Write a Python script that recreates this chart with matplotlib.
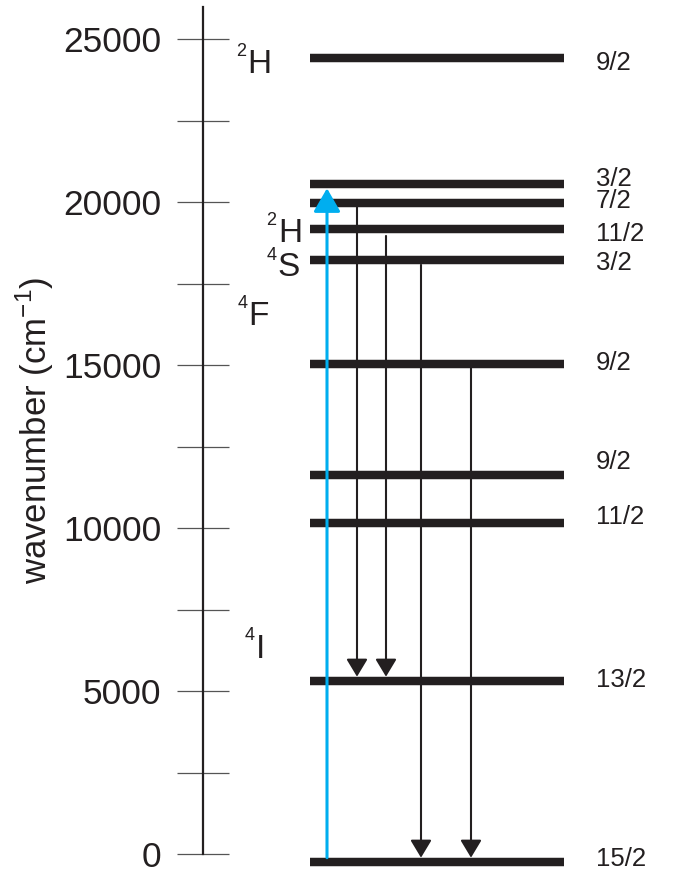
import matplotlib
matplotlib.use("Agg")
import matplotlib.pyplot as plt
from matplotlib.patches import ArrowStyle

plt.rcParams['font.family'] = ['Liberation Sans', 'DejaVu Sans']
plt.rcParams['mathtext.fontset'] = 'custom'
plt.rcParams['mathtext.rm'] = 'Liberation Sans'

# ---------------- data ----------------
level_energy = [-245, 5307, 10153, 11626, 15031, 18221, 19172, 19969, 20552, 24417]
level_J = ['15/2', '13/2', '11/2', '9/2', '9/2', '3/2', '11/2', '7/2', '3/2', '9/2']

terms_main = ['H', 'H', 'S', 'F', 'I']
terms_mult = ['2', '2', '4', '4', '4']

# excitation (blue) : from -> to
pump_from, pump_to = -245, 20552
# emissions (black): from -> to
emis_from = [19969, 19172, 18221, 15031]
emis_to = [5307, 5307, -245, -245]

yticks_major = [0, 5000, 10000, 15000, 20000, 25000]
yticks_minor = [2500, 7500, 12500, 17500, 22500]

# ---------------- layout ----------------
W, H = 687, 877
fig = plt.figure(figsize=(W / 100, H / 100), dpi=100)
ax = fig.add_axes([0, 0, 1, 1])
ax.set_xlim(0, W)
px_per_unit = 0.0326
y0_px = 854
ax.set_ylim((y0_px - H) / px_per_unit, y0_px / px_per_unit)

dark = '#231f20'
blue = '#00AEEF'

for s in ['top', 'right', 'bottom']:
    ax.spines[s].set_visible(False)
ax.spines['left'].set_position(('data', 203))
ax.spines['left'].set_bounds(0, (y0_px - 7) / px_per_unit)
ax.spines['left'].set_linewidth(1.6)
ax.spines['left'].set_color(dark)
ax.set_xticks([])
ax.set_yticks(yticks_major)
ax.set_yticks(yticks_minor, minor=True)
ax.set_yticklabels([str(v) for v in yticks_major])
ax.tick_params(axis='y', which='both', direction='inout', length=38, width=0.9,
               color='#555555')
ax.tick_params(axis='y', which='major', labelsize=25.5, labelcolor=dark, pad=11)
ax.patch.set_visible(False)

# levels
bar_x0, bar_x1 = 310, 564
ax.hlines(level_energy, bar_x0, bar_x1, colors=dark, linewidth=6.1, capstyle='butt', zorder=3)

def fpos(x, y):
    return (x / W, 1 - y / H)

# J labels
label_baseline_px = [866, 687, 524, 469, 370, 270, 241, 208, 186, 70]
for lab, yb in zip(level_J, label_baseline_px):
    fig.text(*fpos(596, yb), lab, fontsize=18.5, color=dark, ha='left', va='baseline')

# term labels
main_pos = [(247, 73), (278, 242), (277, 276), (248, 325), (256, 658)]
sup_pos = [(236, 56), (266, 225), (267, 260), (238, 308), (245, 640)]
for m, s, (mx, my), (sx, sy) in zip(terms_main, terms_mult, main_pos, sup_pos):
    fig.text(*fpos(mx, my), m, fontsize=24, color=dark, ha='left', va='baseline')
    fig.text(*fpos(sx, sy), s, fontsize=13, color=dark, ha='left', va='baseline')

# y label
fig.text(*fpos(35, 430), 'wavenumber (cm$^{\\mathregular{-1}}$)', fontsize=25, color=dark,
         rotation=90, ha='center', va='center')

# pump arrow
ax.annotate('', xy=(327, pump_to), xytext=(327, pump_from),
            arrowprops=dict(arrowstyle=ArrowStyle('-|>', head_length=14.4, head_width=8.3),
                            mutation_scale=1, color=blue, lw=2.2,
                            shrinkA=3.1, shrinkB=3.1), zorder=4)

# emission arrows
emis_x = [357, 386, 421, 471]
shrink_start = [3.1, 5.0, 3.5, 3.1]
for x, e0, e1, sa in zip(emis_x, emis_from, emis_to, shrink_start):
    ax.annotate('', xy=(x, e1), xytext=(x, e0),
                arrowprops=dict(arrowstyle=ArrowStyle('-|>', head_length=10.8, head_width=6.5),
                                mutation_scale=1, color=dark, lw=1.5,
                                shrinkA=sa, shrinkB=3.1), zorder=4)

fig.savefig('out.png', dpi=100)
